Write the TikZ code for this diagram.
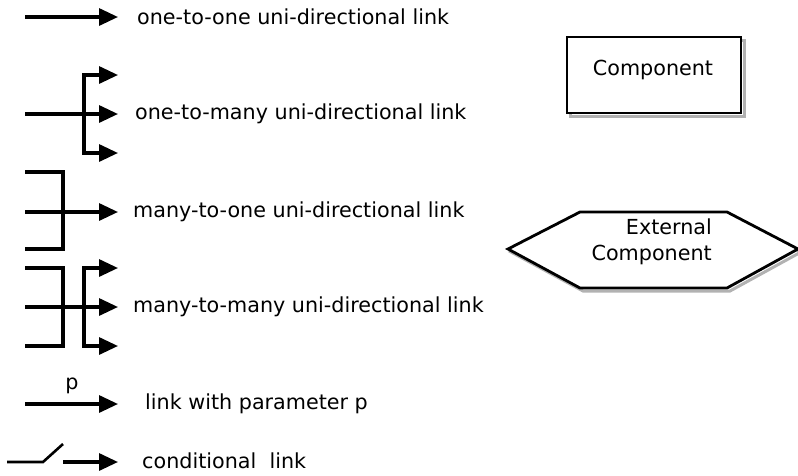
\documentclass[tikz,border=0pt]{standalone}
\usepackage{fontspec}
\setmainfont{DejaVu Sans}
\usetikzlibrary{arrows.meta}
\begin{document}
\begin{tikzpicture}[x=1pt,y=-1pt,
  link/.style={line width=3.2pt,line join=miter,-{Triangle[length=19pt,width=17pt]}},
  wire/.style={line width=3.2pt,line join=miter},
  lbl/.style={anchor=west,inner sep=0pt,font=\fontsize{20.7}{24}\selectfont},
  comptxt/.style={inner sep=0pt,font=\fontsize{20.7}{24}\selectfont},
  compshape/.style={line width=2.8pt,fill=white,line join=miter},
  compshadow/.style={line width=3pt,draw=black!30}]
\useasboundingbox (0,0) rectangle (798,475);

% row 1: one-to-one
\coordinate (a-s) at (25,17);
\coordinate (a-e) at (118,17);
\draw[link] (a-s) -- (a-e);
\node[lbl] (t1) at (137,17) {one-to-one uni-directional link};

% row 2: one-to-many
\coordinate (b-in) at (25,114);
\coordinate (b-top) at (84,75);
\coordinate (b-bot) at (84,153);
\coordinate (b-t1) at (118,75);
\coordinate (b-t2) at (118,114);
\coordinate (b-t3) at (118,153);
\draw[link] (b-bot) -- (b-top) -- (b-t1);
\draw[link] (b-top) -- (b-bot) -- (b-t3);
\draw[link] (b-in) -- (b-t2);
\node[lbl] (t2) at (135,114) {one-to-many uni-directional link};

% row 3: many-to-one
\coordinate (c-i1) at (25,172);
\coordinate (c-i2) at (25,212);
\coordinate (c-i3) at (25,249);
\coordinate (c-top) at (63,172);
\coordinate (c-bot) at (63,249);
\coordinate (c-t) at (118,212);
\draw[wire] (c-i1) -- (c-top) -- (c-bot) -- (c-i3);
\draw[link] (c-i2) -- (c-t);
\node[lbl] (t3) at (133,212) {many-to-one uni-directional link};

% row 4: many-to-many
\coordinate (d-i1) at (25,268);
\coordinate (d-i2) at (25,307);
\coordinate (d-i3) at (25,346);
\coordinate (d-ltop) at (63,268);
\coordinate (d-lbot) at (63,346);
\coordinate (d-rtop) at (84,268);
\coordinate (d-rbot) at (84,346);
\coordinate (d-t1) at (118,268);
\coordinate (d-t2) at (118,307);
\coordinate (d-t3) at (118,346);
\draw[wire] (d-i1) -- (d-ltop) -- (d-lbot) -- (d-i3);
\draw[link] (d-rbot) -- (d-rtop) -- (d-t1);
\draw[link] (d-rtop) -- (d-rbot) -- (d-t3);
\draw[link] (d-i2) -- (d-t2);
\node[lbl] (t4) at (133,307) {many-to-many uni-directional link};

% row 5: parameter
\coordinate (e-s) at (25,404);
\coordinate (e-e) at (118,404);
\draw[link] (e-s) -- (e-e);
\node[comptxt] (p) at (72,386) {p};
\node[lbl] (t5) at (145,404) {link with parameter p};

% row 6: conditional
\coordinate (f-s) at (7,462);
\coordinate (f-k) at (43,462);
\coordinate (f-sw) at (63,444);
\coordinate (f-a) at (63,462);
\coordinate (f-e) at (118,462);
\draw[line width=2.6pt] (f-s) -- (f-k) -- (f-sw);
\draw[link] (f-a) -- (f-e);
\node[lbl] (t6) at (142,461) {conditional\ \ link};

% Component box
\draw[compshadow] (570,40) rectangle (744,116);
\node[compshape,draw,minimum width=174pt,minimum height=76pt] (comp) at (654,75) {};
\node[comptxt] (comptext) at (653,70) {Component};

% External component hexagon
\draw[compshadow] (511,252) -- (583,215) -- (730,215) -- (801,252) -- (730,291) -- (583,291) -- cycle;
\draw[compshape] (508,249) -- (580,212) -- (727,212) -- (798,249) -- (727,288) -- (580,288) -- cycle;
\node[comptxt,anchor=east] (ext1) at (712,227) {External};
\node[comptxt,anchor=east] (ext2) at (712,255) {Component};
\end{tikzpicture}
\end{document}
